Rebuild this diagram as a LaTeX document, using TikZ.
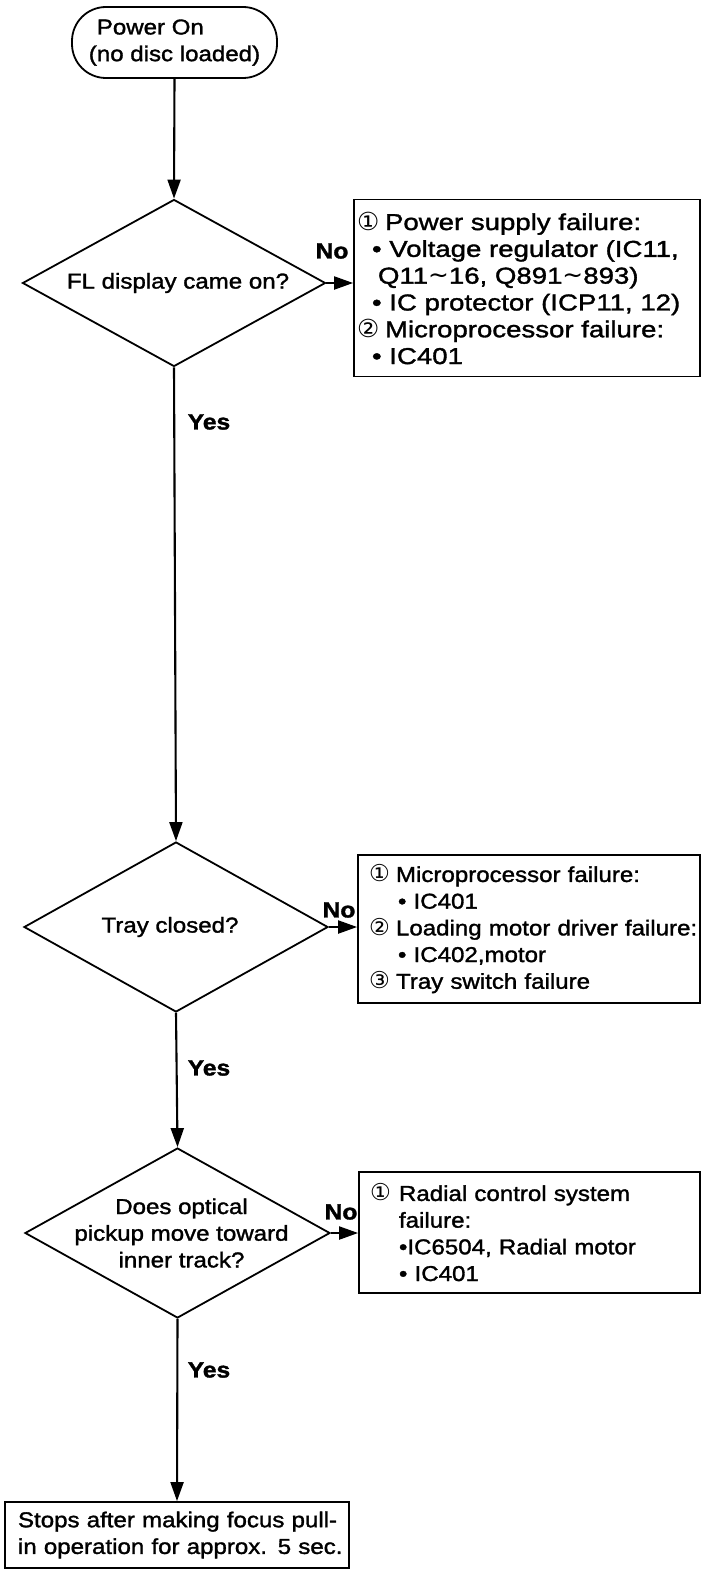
\documentclass[tikz,border=0pt]{standalone}
\usepackage{fontspec}
\setmainfont[FakeStretch=1.12,FakeBold=1.5]{Liberation Sans}
\newfontfamily\widefont[FakeStretch=1.2,FakeBold=1.5]{Liberation Sans}
\newfontfamily\circfont[Scale=1.08]{DejaVu Sans}
\usetikzlibrary{shapes.geometric,arrows.meta}
\newcommand{\cn}[1]{{\circfont #1}}
\begin{document}
\begin{tikzpicture}[x=1pt,y=-1pt,
  every node/.style={font=\fontsize{21.5}{26.7}\selectfont},
  term/.style={draw,line width=1.8pt,rectangle,rounded corners=34pt,minimum width=205pt,minimum height=71pt,inner sep=0pt,align=left},
  decision/.style={draw,line width=1.8pt,diamond,minimum width=303pt,minimum height=167pt,inner sep=0pt},
  infobox/.style={draw,line width=1.8pt,rectangle,align=left,inner ysep=0pt},
  yn/.style={font=\fontsize{22}{26.7}\selectfont\bfseries,inner sep=0pt},
  flow/.style={line width=2.1pt,-{Triangle[length=19pt,width=13pt]}},
]
\useasboundingbox (0,0) rectangle (702,1571);

% start
\node[term] (start) at (174.5,42.5) {\hspace*{8pt}Power On\\(no disc loaded)};

% decision 1
\node[decision] (d1) at (174,283) {};
\node (t1) at ([xshift=4pt]d1.center) {FL display came on?};
\node[infobox,minimum width=346pt,minimum height=177pt,text width=340pt,inner xsep=3pt,
      font=\widefont\fontsize{23}{26.8}\selectfont] (b1) at (527,288) {%
\mbox{\makebox[28pt][l]{\cn{①}}Power supply failure:}\\
\mbox{\hspace*{15pt}• Voltage regulator (IC11,}\\
\mbox{\hspace*{21pt}Q11\cn{∼}16, Q891\cn{∼}893)}\\
\mbox{\hspace*{15pt}• IC protector (ICP11, 12)}\\
\mbox{\makebox[28pt][l]{\cn{②}}Microprocessor failure:}\\
\mbox{\hspace*{15pt}• IC401}\\[4pt]};

% decision 2
\node[decision,minimum height=170pt,minimum width=304pt] (d2) at (176,927) {};
\node (t2) at ([xshift=-6pt]d2.center) {Tray closed?};
\node[infobox,minimum width=342pt,minimum height=148pt,text width=320pt,inner xsep=11pt] (b2) at (529,929) {%
\mbox{\makebox[27pt][l]{\cn{①}}Microprocessor failure:}\\
\mbox{\hspace*{29pt}• IC401}\\
\mbox{\makebox[27pt][l]{\cn{②}}Loading motor driver failure:}\\
\mbox{\hspace*{29pt}• IC402,motor}\\
\mbox{\makebox[27pt][l]{\cn{③}}Tray switch failure}};

% decision 3
\node[decision,minimum height=170pt,minimum width=305pt] (d3) at (177.5,1233) {};
\node[align=center] (t3) at ([xshift=4pt]d3.center) {Does optical\\pickup move toward\\inner track?};
\node[infobox,minimum width=341pt,minimum height=121pt,text width=319pt,inner xsep=11pt] (b3) at (529.5,1232.5) {%
\mbox{\makebox[29pt][l]{\cn{①}}Radial control system}\\
\mbox{\hspace*{29pt}failure:}\\
\mbox{\hspace*{29pt}•IC6504, Radial motor}\\
\mbox{\hspace*{29pt}• IC401}};

% end
\node[infobox,minimum width=344pt,minimum height=66pt,text width=318pt,inner xsep=13pt] (end) at (177,1535) {%
\mbox{Stops after making focus pull-}\\
\mbox{in operation for approx. 5 sec.}};

% connectors
\draw[flow] (start.south) -- (d1.north);
\draw[flow] (d1.east) -- (d1.east -| b1.west);
\draw[flow] (d1.south) -- (d2.north);
\draw[flow] (d2.east) -- (d2.east -| b2.west);
\draw[flow] (d2.south) -- (d3.north);
\draw[flow] (d3.east) -- (d3.east -| b3.west);
\draw[flow] (d3.south) -- (end.north);

% labels
\node[yn] (no1) at (332,251) {No};
\node[yn] (no2) at (339,910) {No};
\node[yn] (no3) at (341,1212) {No};
\node[yn] (yes1) at (209,422) {Yes};
\node[yn] (yes2) at (209,1068) {Yes};
\node[yn] (yes3) at (209,1370) {Yes};
\end{tikzpicture}
\end{document}
